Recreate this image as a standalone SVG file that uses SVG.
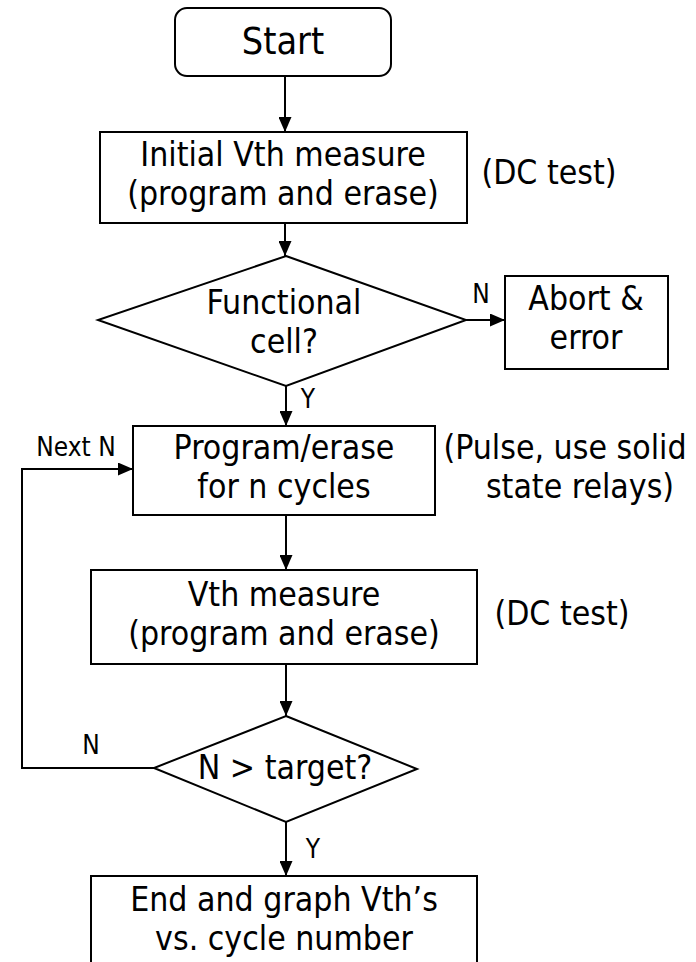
<svg xmlns="http://www.w3.org/2000/svg" width="696" height="962" viewBox="0 0 696 962">
<defs>
<marker id="ah" viewBox="0 0 15 13" refX="15" refY="6.5" markerWidth="15" markerHeight="13" markerUnits="userSpaceOnUse" orient="auto">
<path d="M0,0 L15,6.5 L0,13 z" fill="#000"/>
</marker>
<style>
.n{fill:#fff;stroke:#000;stroke-width:2}
.t{font-family:"DejaVu Sans Condensed","DejaVu Sans","Open Sans",sans-serif;font-stretch:condensed;font-size:33.5px;fill:#000;text-anchor:middle}
.s{font-family:"DejaVu Sans Condensed","DejaVu Sans","Open Sans",sans-serif;font-stretch:condensed;font-size:26px;fill:#000;text-anchor:middle}
.c{fill:none;stroke:#000;stroke-width:2;marker-end:url(#ah)}
</style>
</defs>
<rect width="696" height="962" fill="#fff"/>
<g id="start">
<rect class="n" x="175" y="8" width="216" height="68" rx="12"/>
<text class="t" x="283" y="54" style="font-size:37.5px">Start</text>
</g>
<g id="initial">
<rect class="n" x="100" y="132" width="367" height="91"/>
<text class="t" x="283" y="166">Initial Vth measure</text>
<text class="t" x="283" y="205">(program and erase)</text>
</g>
<text class="t" x="549" y="184">(DC test)</text>
<g id="functional">
<polygon class="n" points="286,256 466,320 286,386 98,320"/>
<text class="t" x="284" y="314">Functional</text>
<text class="t" x="284" y="353">cell?</text>
</g>
<g id="abort">
<rect class="n" x="505" y="276" width="163" height="93"/>
<text class="t" x="586" y="310">Abort &amp;</text>
<text class="t" x="586" y="349">error</text>
</g>
<g id="program">
<rect class="n" x="133" y="426" width="302" height="89"/>
<text class="t" x="284" y="459">Program/erase</text>
<text class="t" x="284" y="498">for n cycles</text>
</g>
<text class="t" x="565" y="459">(Pulse, use solid</text>
<text class="t" x="580" y="498">state relays)</text>
<g id="vth">
<rect class="n" x="91" y="570" width="386" height="94"/>
<text class="t" x="284" y="606">Vth measure</text>
<text class="t" x="284" y="645">(program and erase)</text>
</g>
<text class="t" x="562" y="625">(DC test)</text>
<g id="target">
<polygon class="n" points="286,716 417,769 286,822 154,768"/>
<text class="t" x="285" y="779">N &gt; target?</text>
</g>
<g id="end">
<rect class="n" x="91" y="876" width="386" height="100"/>
<text class="t" x="284" y="911">End and graph Vth’s</text>
<text class="t" x="284" y="950">vs. cycle number</text>
</g>
<g id="connectors">
<path class="c" d="M285,76 V132"/>
<path class="c" d="M285,223 V256"/>
<path class="c" d="M466,320 H505"/>
<path class="c" d="M286,386 V426"/>
<path class="c" d="M286,515 V570"/>
<path class="c" d="M286,664 V716"/>
<path class="c" d="M286,822 V876"/>
<path class="c" d="M154,768 H22 V469 H133"/>
<text class="s" x="481" y="303">N</text>
<text class="s" x="308" y="408">Y</text>
<text class="s" x="76" y="456">Next N</text>
<text class="s" x="91" y="754">N</text>
<text class="s" x="313" y="858">Y</text>
</g>
</svg>
